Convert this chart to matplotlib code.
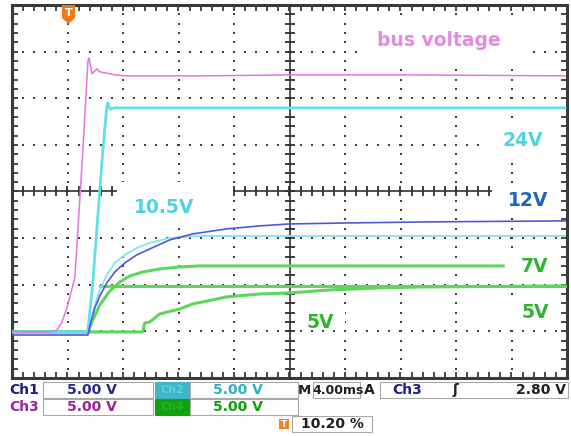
import numpy as np
import matplotlib
matplotlib.use("Agg")
import matplotlib.pyplot as plt
from matplotlib.patches import Rectangle, Polygon

W, H = 571, 436

# traces, time in ms (4 ms/div, trigger at 0), level in V (5 V/div)
bus_t = [-4.0, -1.27, -0.76, -0.40, -0.04, 0.17, 0.39, 0.53, 1.11, 1.47, 1.54, 1.61,
         1.76, 1.90, 2.12, 2.33, 2.69, 3.41, 4.13, 9.53, 16.72, 23.91, 35.86]
bus_v = [-0.06, -0.06, 0.15, 1.01, 2.51, 3.69, 4.98, 5.73, 19.46, 28.9, 29.33, 28.9,
         27.62, 27.83, 28.15, 27.83, 27.73, 27.51, 27.4, 27.4, 27.51, 27.51, 27.4]

v24_t = [-4.0, 1.25, 1.47, 1.61, 1.83, 2.19, 2.55, 2.83, 2.91, 3.05, 3.41, 35.86]
v24_v = [-0.06, -0.06, 0.15, 2.08, 5.30, 12.49, 19.46, 24.08, 24.51, 23.86, 23.97, 23.97]

v105_t = [1.47, 1.68, 1.97, 2.33, 2.83, 3.41, 4.13, 4.99, 5.93, 7.37, 9.53, 35.86]
v105_v = [-0.06, 1.01, 2.83, 4.44, 6.05, 7.34, 8.20, 8.95, 9.49, 10.02, 10.24, 10.24]

v12_t = [-4.0, 1.47, 1.68, 1.97, 2.33, 2.83, 3.41, 4.13, 4.99, 5.93, 7.37, 9.02,
         11.47, 13.84, 16.0, 20.32, 26.07, 35.86]
v12_v = [-0.39, -0.39, 1.01, 2.51, 3.80, 5.19, 6.37, 7.34, 8.20, 8.84, 9.81, 10.45,
         10.99, 11.31, 11.52, 11.63, 11.74, 11.85]

v7_t = [-4.0, 1.47, 1.76, 2.33, 3.05, 3.77, 4.49, 5.42, 6.65, 8.09, 9.53, 31.4]
v7_v = [-0.06, -0.06, 1.01, 2.83, 4.33, 5.30, 5.94, 6.37, 6.70, 6.91, 7.02, 7.02]

ref5_t = [2.33, 35.86]
ref5_v = [4.87, 4.87]

v5_t = [-4.0, 5.42, 5.57, 5.93, 6.65, 8.09, 9.02, 11.47, 13.84, 16.0, 18.88, 22.47,
        25.35, 35.86]
v5_v = [-0.06, -0.06, 0.90, 1.01, 1.87, 2.40, 2.94, 3.69, 4.01, 4.12, 4.44, 4.66,
        4.76, 4.87]


def fx(x):
    return x / W


def fy(y):
    return 1 - y / H


fig = plt.figure(figsize=(W / 100, H / 100), dpi=100)
fig.patch.set_facecolor("white")
ax = fig.add_axes([fx(12), fy(378), (567 - 12) / W, (378 - 5) / H])
ax.set_xlim(-4, 36)
ax.set_ylim(-5, 35)

# graticule
dot = dict(ls="none", marker="s", ms=1.5, mew=0, color="#404040", zorder=1)
ydots = np.arange(-5, 35.01, 1.0)
xdots = np.arange(-4, 36.01, 0.8)
for k in range(1, 10):
    if k != 5:
        ax.plot([-4 + 4 * k] * len(ydots), ydots, **dot)
for k in range(1, 8):
    if k != 4:
        ax.plot(xdots, [-5 + 5 * k] * len(xdots), **dot)
ax.axvline(16, color="#303030", lw=1.2, zorder=1)
ax.axhline(15, color="#303030", lw=1.2, zorder=1)
ax.plot([16] * len(ydots), ydots, ls="none", marker="_", ms=7, mew=1.3, color="#303030", zorder=1)
ax.plot(xdots, [15] * len(xdots), ls="none", marker="|", ms=7, mew=1.3, color="#303030", zorder=1)

ax.set_xticks(xdots)
ax.set_yticks(ydots)
ax.tick_params(direction="in", length=4, width=1.3, color="#3a3a3a",
               top=True, right=True, labelbottom=False, labelleft=False)
for s in ax.spines.values():
    s.set_linewidth(2.2)
    s.set_color("#3a3a3a")


def whitebox(x0, x1, y0, y1):
    ax.add_patch(Rectangle((fx(x0), fy(y1)), (x1 - x0) / W, (y1 - y0) / H,
                           transform=fig.transFigure, fc="white", ec="none", zorder=1.5))


for b in [(360, 532, 20, 66), (482, 563, 125, 163), (117, 233, 182, 224),
          (492, 563, 185, 216), (505, 563, 250, 282), (505, 563, 298, 328),
          (298, 345, 311, 330)]:
    whitebox(*b)

# traces
ax.plot(v5_t, v5_v, color="#5cd65c", lw=2.2, zorder=3)
ax.plot(ref5_t, ref5_v, color="#5cd65c", lw=2.2, zorder=3)
ax.plot(v7_t, v7_v, color="#5cd65c", lw=2.2, zorder=3)
ax.plot(v12_t, v12_v, color="#5555dc", lw=1.2, zorder=3.2)
ax.plot(v105_t, v105_v, color="#7fe6ee", lw=1.3, zorder=3.1)
ax.plot(v24_t, v24_v, color="#5fe0ec", lw=2.0, zorder=3)
ax.plot(bus_t, bus_v, color="#e673e6", lw=1.1, zorder=3.3)

# labels
lab = dict(fontsize=13.5, fontweight="bold", family="DejaVu Sans",
           ha="center", va="center", zorder=2)
fig.text(fx(439), fy(40), "bus voltage", color="#e38ae3", **lab)
fig.text(fx(523), fy(141), "24V", color="#4fd3e3", **lab)
fig.text(fx(164), fy(207), "10.5V", color="#4fd3e3", **lab)
fig.text(fx(528), fy(200), "12V", color="#2066b8", **lab)
fig.text(fx(535), fy(266), "7V", color="#2fb52f", **lab)
fig.text(fx(535), fy(313), "5V", color="#2fb52f", **lab)
fig.text(fx(320), fy(322), "5V", color="#2fb52f", **lab)

# trigger marker
fig.patches.append(Polygon([(fx(62), fy(5)), (fx(75), fy(5)), (fx(75), fy(18)),
                            (fx(68.5), fy(24)), (fx(62), fy(18))], closed=True,
                           transform=fig.transFigure, fc="#f07818", ec="none"))
fig.text(fx(68.5), fy(13), "T", color="white", fontsize=8, fontweight="bold",
         ha="center", va="center")

# status bar
st = dict(fontsize=10, fontweight="bold", family="DejaVu Sans", va="center")


def sbox(x0, x1, y0, y1, fc="white", ec="#a8a8a8"):
    fig.patches.append(Rectangle((fx(x0), fy(y1)), (x1 - x0) / W, (y1 - y0) / H,
                                 transform=fig.transFigure, fc=fc, ec=ec, lw=0.8))


r1, r2 = (382, 398), (399, 415)
sbox(43, 153, *r1)
sbox(43, 153, *r2)
sbox(155, 190, *r1, fc="#40b6c6", ec="#40b6c6")
sbox(155, 190, *r2, fc="#12a012", ec="#12a012")
sbox(190, 298, *r1)
sbox(190, 298, *r2)
sbox(313, 360, *r1)
sbox(380, 568, *r1)
sbox(292, 372, 416, 432)

fig.text(fx(9), fy(390), "Ch1", color="#1c1c8a", **st)
fig.text(fx(9), fy(407), "Ch3", color="#a0229a", **st)
fig.text(fx(92), fy(390), "5.00 V", color="#28288e", ha="center", **st)
fig.text(fx(92), fy(407), "5.00 V", color="#a0229a", ha="center", **st)
fig.text(fx(172), fy(390), "Ch2", color="#62cfdd", ha="center", fontsize=8,
         fontweight="bold", va="center")
fig.text(fx(172), fy(407), "Ch4", color="#22b422", ha="center", fontsize=8,
         fontweight="bold", va="center")
fig.text(fx(238), fy(390), "5.00 V", color="#2fb0c0", ha="center", **st)
fig.text(fx(238), fy(407), "5.00 V", color="#0f9f0f", ha="center", **st)
fig.text(fx(304), fy(390), "M", color="#202020", ha="center", fontsize=9.5,
         fontweight="bold", va="center")
fig.text(fx(338), fy(390), "4.00ms", color="#202020", ha="center", fontsize=9,
         fontweight="bold", va="center")
fig.text(fx(369), fy(390), "A", color="#202020", ha="center", **st)
fig.text(fx(392), fy(390), "Ch3", color="#1c1c8a", **st)
fig.text(fx(455), fy(390), "ʃ", color="#202020", ha="center", **st)
fig.text(fx(566), fy(390), "2.80 V", color="#202020", ha="right", **st)
fig.patches.append(Rectangle((fx(279), fy(429)), 10 / W, 10 / H,
                             transform=fig.transFigure, fc="#f08020", ec="none"))
fig.text(fx(284), fy(424), "T", color="white", fontsize=6.5, fontweight="bold",
         ha="center", va="center")
fig.text(fx(332), fy(424), "10.20 %", color="#202020", ha="center", **st)

fig.savefig("out.png", dpi=100)
